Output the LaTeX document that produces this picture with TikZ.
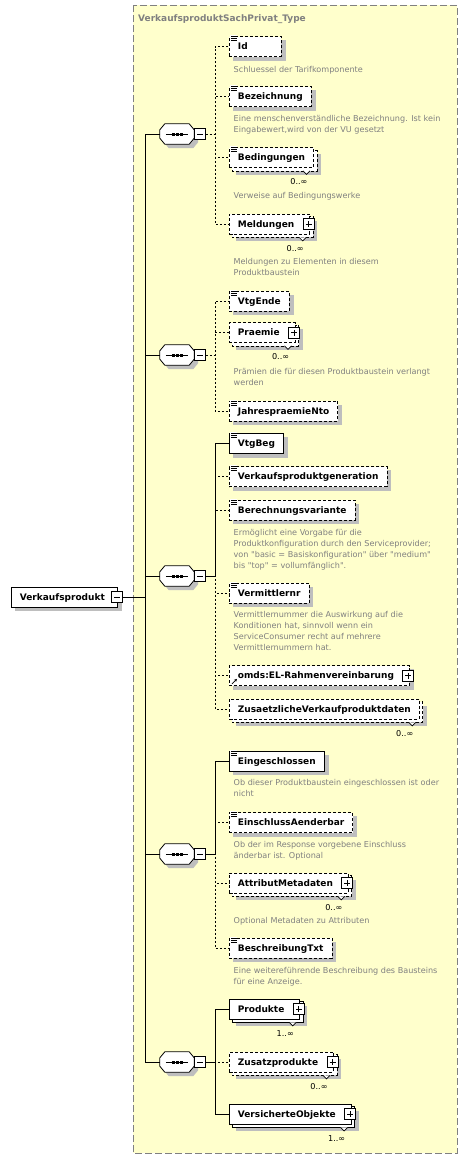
\documentclass[tikz,border=0pt]{standalone}
\usepackage{fontspec}
\setmainfont{DejaVu Sans}[Ligatures=TeXOff]
\usetikzlibrary{backgrounds,arrows.meta}
\definecolor{bgyellow}{RGB}{255,255,204}
\definecolor{shadowc}{RGB}{190,190,190}
\definecolor{descc}{RGB}{128,128,128}
\definecolor{framec}{RGB}{128,128,128}
\newcommand\gap[1]{\hspace*{#1}\null}
\tikzset{
  el/.style={draw, fill=white, anchor=west, minimum height=20pt, inner xsep=8.5pt, inner ysep=0pt,
    text height=7.5pt, text depth=1pt, font=\fontsize{9}{11}\selectfont\bfseries, line width=0.8pt},
  opt/.style={dash pattern=on 3pt off 2pt},
  dl/.style={line width=0.8pt, dash pattern=on 3pt off 2pt},
  sl/.style={line width=0.8pt},
  desc/.style={anchor=north west, inner sep=0pt, align=left, text=descc, font=\fontsize{8.1}{11}\selectfont},
  occ/.style={inner sep=0pt, font=\fontsize{8.1}{10}\selectfont},
  pm/.style={draw, fill=white, minimum size=11pt, inner sep=0pt, line width=0.8pt},
  minusb/.style={pm, path picture={\draw[line width=0.9pt] ([xshift=2.5pt]path picture bounding box.west) -- ([xshift=-2.5pt]path picture bounding box.east);}},
  plusb/.style={pm, path picture={\draw[line width=0.9pt] ([xshift=2.5pt]path picture bounding box.west) -- ([xshift=-2.5pt]path picture bounding box.east);
      \draw[line width=0.9pt] ([yshift=-2.5pt]path picture bounding box.north) -- ([yshift=2.5pt]path picture bounding box.south);}},
  seqn/.style={draw=none, minimum width=34pt, minimum height=20pt, inner sep=0pt},
  sconn/.style={line width=0.8pt},
  dconn/.style={line width=0.8pt, dash pattern=on 2pt off 2pt},
}
\newcommand\octo[3]{([shift={(5+#2,#3)}]#1.north west) -- ([shift={(-5+#2,#3)}]#1.north east) -- ([shift={(#2,6+#3)}]#1.north east) -- ([shift={(#2,-6+#3)}]#1.south east) -- ([shift={(-5+#2,#3)}]#1.south east) -- ([shift={(5+#2,#3)}]#1.south west) -- ([shift={(#2,-6+#3)}]#1.south west) -- ([shift={(#2,6+#3)}]#1.north west) -- cycle}
\newcommand\seqdraw[1]{%
  \begin{pgfonlayer}{background}\fill[shadowc] \octo{#1}{4}{4};\end{pgfonlayer}
  \draw[fill=white, line width=0.8pt] \octo{#1}{0}{0};
  \draw[line width=0.8pt] ([xshift=6pt]#1.west) -- ([xshift=-6pt]#1.east);
  \foreach \k in {-4,0,4} \fill ([xshift=\k pt]#1.center) +(-1.5,-1.5) rectangle +(1.5,1.5);
}
\newcommand\shad[1]{\begin{pgfonlayer}{background}\fill[shadowc] ([shift={(4,4)}]#1.north west) rectangle ([shift={(4,4)}]#1.south east);\end{pgfonlayer}}
\newcommand\simp[1]{%
  \fill[white] ([shift={(1,-1)}]#1.north west) rectangle ([shift={(8,5.5)}]#1.north west);
  \foreach \k in {0.5,2.5,4.5} \draw[line width=0.7pt] ([shift={(2,\k)}]#1.north west) -- ++(6,0);
}
\newcommand\multi[3]{%
  \begin{pgfonlayer}{background}
    \fill[shadowc] ([shift={(7,7)}]#1.north west) rectangle ([shift={(7,7)}]#1.south east);
    \draw[#2, fill=white] ([shift={(3,3)}]#1.north west) rectangle ([shift={(3,3)}]#1.south east);
  \end{pgfonlayer}
  \filldraw[fill=white, line width=0.7pt] ([shift={(-11,3)}]#1.south east) -- ([shift={(-7.5,6.5)}]#1.south east) -- ([shift={(-4,3)}]#1.south east);
  \node[occ] (#1o) at ([shift={(-15,14)}]#1.south east) {#3};
}
\newcommand\kid[3]{\draw[#1] (#2.east) -| ([xshift=-14pt]#3.west) -- (#3.west);}
\newcommand\trunk[1]{\draw[sconn] (rootm.east) -| ([xshift=-14pt]#1.west) -- (#1.west);}
\begin{document}
\begin{tikzpicture}[x=1pt,y=-1pt]
\useasboundingbox (0,0) rectangle (468,1160);
\begin{pgfonlayer}{background}
\path[fill=bgyellow, draw=framec, line width=1pt, dash pattern=on 7pt off 3pt] (133,5) rectangle (457,1153);
\end{pgfonlayer}
\node[anchor=base west, inner sep=0pt, text=framec, font=\fontsize{9}{11}\selectfont\bfseries] (title) at (138,21.5) {VerkaufsproduktSachPrivat\_Type};

% root
\node[el] (root) at (11,597) {Verkaufsprodukt\gap{4pt}}; \shad{root};
\node[minusb] (rootm) at ([xshift=-0.5pt]root.east) {};

% sequences
\node[seqn] (s1) at (177,134) {}; \seqdraw{s1}; \node[minusb] (s1m) at (200,134) {};
\node[seqn] (s2) at (177,355) {}; \seqdraw{s2}; \node[minusb] (s2m) at (200,355) {};
\node[seqn] (s3) at (177,576) {}; \seqdraw{s3}; \node[minusb] (s3m) at (200,576) {};
\node[seqn] (s4) at (177,854) {}; \seqdraw{s4}; \node[minusb] (s4m) at (200,854) {};
\node[seqn] (s5) at (177,1062) {}; \seqdraw{s5}; \node[minusb] (s5m) at (200,1062) {};

% group 1
\node[el,opt] (id) at (229,46.5) {Id\gap{25pt}}; \shad{id}; \simp{id};
\node[desc] (idd) at (233.5,64.3) {\strut Schluessel der Tarifkomponente};
\node[el,opt] (bez) at (229,96.5) {Bezeichnung}; \shad{bez}; \simp{bez};
\node[desc] (bezd) at (233.5,113.3) {\strut Eine menschenverständliche Bezeichnung. Ist kein\\Eingabewert,wird von der VU gesetzt};
\node[el,opt] (bed) at (229,157.5) {Bedingungen}; \multi{bed}{dl}{0..∞}; \simp{bed};
\node[desc] (bedd) at (233.5,190.3) {\strut Verweise auf Bedingungswerke};
\node[el,opt] (meld) at (229,224) {Meldungen\gap{7pt}}; \multi{meld}{dl}{0..∞};
\node[plusb] (meldp) at ([xshift=-1.5pt]meld.east) {};
\node[desc] (meldd) at (233.5,256.3) {\strut Meldungen zu Elementen in diesem\\Produktbaustein};

% group 2
\node[el,opt] (vte) at (229,301) {VtgEnde}; \shad{vte}; \simp{vte};
\node[el,opt] (pra) at (229,332.5) {Praemie\gap{7pt}}; \multi{pra}{dl}{0..∞};
\node[plusb] (prap) at ([xshift=-1.5pt]pra.east) {};
\node[desc] (prad) at (233.5,366.3) {\strut Prämien die für diesen Produktbaustein verlangt\\werden};
\node[el,opt] (jpn) at (229,411) {JahrespraemieNto}; \shad{jpn}; \simp{jpn};

% group 3
\node[el] (vtb) at (229,443.5) {VtgBeg}; \shad{vtb}; \simp{vtb};
\node[el,opt] (vpg) at (229,476.5) {Verkaufsproduktgeneration}; \shad{vpg}; \simp{vpg};
\node[el,opt] (bv) at (229,510) {Berechnungsvariante}; \shad{bv}; \simp{bv};
\node[desc] (bvd) at (233.5,527.3) {\strut Ermöglicht eine Vorgabe für die\\Produktkonfiguration durch den Serviceprovider;\\von "basic = Basiskonfiguration" über "medium"\\bis "top" = vollumfänglich".};
\node[el,opt] (vnr) at (229,593) {Vermittlernr}; \shad{vnr}; \simp{vnr};
\node[desc] (vnrd) at (233.5,609.3) {\strut Vermittlernummer die Auswirkung auf die\\Konditionen hat, sinnvoll wenn ein\\ServiceConsumer recht auf mehrere\\Vermittlernummern hat.};
\node[el,opt] (omds) at (229,675.5) {omds:EL-Rahmenvereinbarung\gap{7pt}}; \shad{omds};
\node[plusb] (omdsp) at ([xshift=-1.5pt]omds.east) {};
\draw[-{Stealth[length=3pt,width=3pt]}, line width=0.8pt] ([shift={(3,-2)}]omds.south west) -- ([shift={(8,-7)}]omds.south west);
\node[el,opt] (zvd) at (229,709) {ZusaetzlicheVerkaufproduktdaten}; \multi{zvd}{dl}{0..∞};

% group 4
\node[el] (ein) at (229,761) {Eingeschlossen}; \shad{ein}; \simp{ein};
\node[desc] (eind) at (233.5,777.3) {\strut Ob dieser Produktbaustein eingeschlossen ist oder\\nicht};
\node[el,opt] (eia) at (229,822.5) {EinschlussAenderbar}; \shad{eia}; \simp{eia};
\node[desc] (eiad) at (233.5,839.3) {\strut Ob der im Response vorgebene Einschluss\\änderbar ist. Optional};
\node[el,opt] (amd) at (229,883) {AttributMetadaten\gap{7pt}}; \multi{amd}{dl}{0..∞};
\node[plusb] (amdp) at ([xshift=-1.5pt]amd.east) {};
\node[desc] (amdd) at (233.5,915.3) {\strut Optional Metadaten zu Attributen};
\node[el,opt] (btx) at (229,948) {BeschreibungTxt}; \shad{btx}; \simp{btx};
\node[desc] (btxd) at (233.5,965.3) {\strut Eine weitereführende Beschreibung des Bausteins\\für eine Anzeige.};

% group 5
\node[el] (prod) at (229,1009) {Produkte\gap{7pt}}; \multi{prod}{sl}{1..∞};
\node[plusb] (prodp) at ([xshift=-1.5pt]prod.east) {};
\node[el,opt] (zus) at (229,1062) {Zusatzprodukte\gap{7pt}}; \multi{zus}{dl}{0..∞};
\node[plusb] (zusp) at ([xshift=-1.5pt]zus.east) {};
\node[el] (vob) at (229,1114) {VersicherteObjekte\gap{7pt}}; \multi{vob}{sl}{1..∞};
\node[plusb] (vobp) at ([xshift=-1.5pt]vob.east) {};

% connectors: trunk
\trunk{s1} \trunk{s2} \trunk{s3} \trunk{s4} \trunk{s5}
% dashed children
\kid{dconn}{s1m}{id} \kid{dconn}{s1m}{bez} \kid{dconn}{s1m}{bed} \kid{dconn}{s1m}{meld}
\kid{dconn}{s2m}{vte} \kid{dconn}{s2m}{pra} \kid{dconn}{s2m}{jpn}
\kid{dconn}{s3m}{vpg} \kid{dconn}{s3m}{bv} \kid{dconn}{s3m}{vnr} \kid{dconn}{s3m}{omds} \kid{dconn}{s3m}{zvd}
\kid{dconn}{s4m}{eia} \kid{dconn}{s4m}{amd} \kid{dconn}{s4m}{btx}
\kid{dconn}{s5m}{zus}
% solid children
\kid{sconn}{s3m}{vtb}
\kid{sconn}{s4m}{ein}
\kid{sconn}{s5m}{prod} \kid{sconn}{s5m}{vob}
\end{tikzpicture}
\end{document}
